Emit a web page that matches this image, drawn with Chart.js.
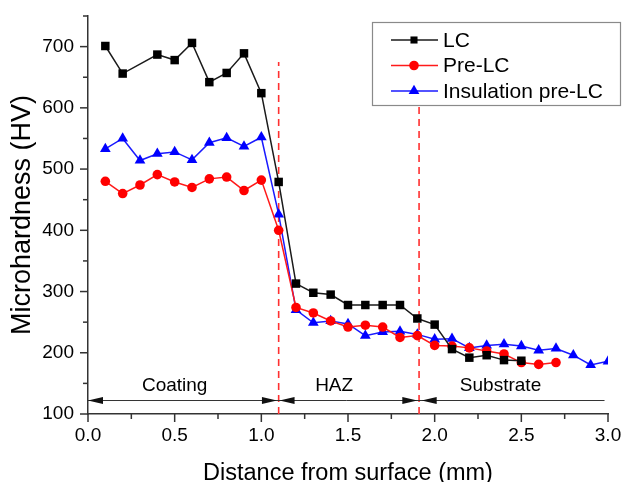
<!DOCTYPE html>
<html>
<head>
<meta charset="utf-8">
<script src="https://cdn.jsdelivr.net/npm/chart.js@4.4.1/dist/chart.umd.min.js"></script>
<style>
  html, body { margin: 0; padding: 0; background: #fff; }
  canvas { display: block; }
</style>
</head>
<body>
<canvas id="hv" width="624" height="482"></canvas>
<script>
// Microhardness profiles versus distance from the coating surface
const distLC = [0.1, 0.2, 0.4, 0.5, 0.6, 0.7, 0.8, 0.9, 1.0, 1.1, 1.2, 1.3, 1.4, 1.5, 1.6, 1.7, 1.8, 1.9, 2.0, 2.1, 2.2, 2.3, 2.4, 2.5];
const hvLC   = [701, 656, 687, 678, 706, 642, 657, 689, 624, 479, 313, 298, 295, 278, 278, 278, 278, 256, 246, 206, 192, 196, 188, 187];

const distPre = [0.1, 0.2, 0.3, 0.4, 0.5, 0.6, 0.7, 0.8, 0.9, 1.0, 1.1, 1.2, 1.3, 1.4, 1.5, 1.6, 1.7, 1.8, 1.9, 2.0, 2.1, 2.2, 2.3, 2.4, 2.5, 2.6, 2.7];
const hvPre   = [480, 460, 474, 491, 479, 470, 484, 487, 465, 482, 400, 274, 265, 252, 242, 245, 242, 225, 228, 212, 211, 208, 203, 198, 184, 181, 184];

const distIns = [0.1, 0.2, 0.3, 0.4, 0.5, 0.6, 0.7, 0.8, 0.9, 1.0, 1.1, 1.2, 1.3, 1.4, 1.5, 1.6, 1.7, 1.8, 1.9, 2.0, 2.1, 2.2, 2.3, 2.4, 2.5, 2.6, 2.7, 2.8, 2.9, 3.0];
const hvIns   = [533, 550, 514, 525, 528, 515, 543, 551, 537, 552, 426, 270, 249, 252, 247, 228, 234, 235, 230, 222, 223, 208, 212, 214, 211, 204, 207, 196, 180, 186];

const seriesNames = ['LC', 'Pre-LC', 'Insulation pre-LC'];

const xTickValues = [0, 0.5, 1.0, 1.5, 2.0, 2.5, 3.0];
const yTickValues = [100, 200, 300, 400, 500, 600, 700];

// Zone boundaries and the zone arrows along the bottom
const boundaryX = [1.1, 1.91];
const zoneNames = ['Coating', 'HAZ', 'Substrate'];
const zoneFrom  = [0, 1.105, 1.925];
const zoneTo    = [1.09, 1.90, 2.98];
const zoneLabelX = [0.5, 1.42, 2.38];
const zoneArrowY = 122;
const zoneLabelY = 146;
const boundaryTop = 675;

const FONT = '"Liberation Sans", Arial, Helvetica, sans-serif';

function pts(xs, ys) { return xs.map((x, i) => ({ x: x, y: ys[i] })); }

function drawMarker(ctx, style, x, y, r, color) {
  ctx.save();
  ctx.fillStyle = color;
  ctx.beginPath();
  if (style === 'rect') {
    const s = r * Math.SQRT1_2;
    ctx.rect(x - s, y - s, 2 * s, 2 * s);
  } else if (style === 'triangle') {
    ctx.moveTo(x, y - r);
    ctx.lineTo(x + r * Math.sin(Math.PI / 3), y + r / 2);
    ctx.lineTo(x - r * Math.sin(Math.PI / 3), y + r / 2);
    ctx.closePath();
  } else {
    ctx.arc(x, y, r, 0, Math.PI * 2);
  }
  ctx.fill();
  ctx.restore();
}

function arrowHead(ctx, tipX, y, dir) {
  // dir = -1 points left, +1 points right
  const len = 15, half = 3.5;
  ctx.beginPath();
  ctx.moveTo(tipX, y);
  ctx.lineTo(tipX - dir * len, y - half);
  ctx.lineTo(tipX - dir * len, y + half);
  ctx.closePath();
  ctx.fill();
}

const zonePlugin = {
  id: 'zones',
  beforeDatasetsDraw(chart) {
    const { ctx, scales: { x, y } } = chart;
    ctx.save();
    // dashed zone boundaries
    ctx.strokeStyle = '#ff3030';
    ctx.lineWidth = 1.6;
    ctx.setLineDash([7, 5]);
    boundaryX.forEach(b => {
      const px = x.getPixelForValue(b);
      ctx.beginPath();
      ctx.moveTo(px, y.getPixelForValue(y.min));
      ctx.lineTo(px, y.getPixelForValue(boundaryTop));
      ctx.stroke();
    });
    ctx.setLineDash([]);
    // zone arrows
    const ay = y.getPixelForValue(zoneArrowY);
    ctx.strokeStyle = '#333';
    ctx.fillStyle = '#111';
    ctx.lineWidth = 1;
    ctx.beginPath();
    ctx.moveTo(x.getPixelForValue(zoneFrom[0]), ay);
    ctx.lineTo(x.getPixelForValue(zoneTo[zoneTo.length - 1]), ay);
    ctx.stroke();
    zoneFrom.forEach((f, i) => {
      arrowHead(ctx, x.getPixelForValue(f), ay, -1);
      if (i < zoneFrom.length - 1) arrowHead(ctx, x.getPixelForValue(zoneTo[i]), ay, 1);
    });
    // zone names
    ctx.font = '19px ' + FONT;
    ctx.fillStyle = '#000';
    ctx.textAlign = 'center';
    ctx.textBaseline = 'middle';
    zoneNames.forEach((n, i) => {
      ctx.fillText(n, x.getPixelForValue(zoneLabelX[i]), y.getPixelForValue(zoneLabelY));
    });
    ctx.restore();
  },
  afterDraw(chart) {
    const { ctx, scales: { x, y } } = chart;
    ctx.save();
    // outward tick marks: major and minor
    ctx.strokeStyle = '#333';
    ctx.lineWidth = 1.5;
    const bx = y.getPixelForValue(y.min);
    for (let i = 0; i < xTickValues.length; i++) {
      const px = x.getPixelForValue(xTickValues[i]);
      ctx.beginPath(); ctx.moveTo(px, bx); ctx.lineTo(px, bx + 8); ctx.stroke();
      if (i < xTickValues.length - 1) {
        const mx = x.getPixelForValue((xTickValues[i] + xTickValues[i + 1]) / 2);
        ctx.beginPath(); ctx.moveTo(mx, bx); ctx.lineTo(mx, bx + 5); ctx.stroke();
      }
    }
    const lx = x.getPixelForValue(x.min);
    const yMinor = yTickValues.map(v => v + 50);
    yTickValues.forEach(v => {
      const py = y.getPixelForValue(v);
      ctx.beginPath(); ctx.moveTo(lx, py); ctx.lineTo(lx - 8, py); ctx.stroke();
    });
    yMinor.forEach(v => {
      const py = y.getPixelForValue(v);
      ctx.beginPath(); ctx.moveTo(lx, py); ctx.lineTo(lx - 5, py); ctx.stroke();
    });

    // legend box
    const L = 372, T = 22, R = 620, B = 105;
    ctx.fillStyle = '#fff';
    ctx.fillRect(L, T, R - L, B - T);
    ctx.strokeStyle = '#8a8a8a';
    ctx.lineWidth = 1.2;
    ctx.strokeRect(L + 0.5, T + 0.5, R - L, B - T);
    const rows = [40, 65.5, 91];
    ctx.font = '21px ' + FONT;
    ctx.textAlign = 'left';
    ctx.textBaseline = 'middle';
    chart.data.datasets.forEach((ds, i) => {
      const ry = rows[i];
      ctx.strokeStyle = ds.borderColor;
      ctx.lineWidth = 1.5;
      ctx.beginPath(); ctx.moveTo(391, ry); ctx.lineTo(438, ry); ctx.stroke();
      drawMarker(ctx, ds.pointStyle, 414, ry, ds.pointStyle === 'rect' ? 5 : ds.pointRadius, ds.pointBackgroundColor);
      ctx.fillStyle = '#000';
      ctx.fillText(ds.label, 443, ry + 1);
    });
    ctx.restore();
  }
};

function noEdgePadding(s) {
  s.paddingTop = 0; s.paddingBottom = 0; s.paddingLeft = 0; s.paddingRight = 0;
}

new Chart(document.getElementById('hv'), {
  type: 'scatter',
  data: {
    datasets: [
      {
        label: seriesNames[0], data: pts(distLC, hvLC), showLine: true,
        borderColor: '#1a1a1a', borderWidth: 1.5,
        pointStyle: 'rect', pointRadius: 6, pointBorderWidth: 0,
        pointBackgroundColor: '#000', pointBorderColor: '#000'
      },
      {
        label: seriesNames[1], data: pts(distPre, hvPre), showLine: true,
        borderColor: '#ff1a1a', borderWidth: 1.5,
        pointStyle: 'circle', pointRadius: 4.8, pointBorderWidth: 0,
        pointBackgroundColor: '#ff0000', pointBorderColor: '#ff0000'
      },
      {
        label: seriesNames[2], data: pts(distIns, hvIns), showLine: true,
        borderColor: '#1a1aff', borderWidth: 1.5,
        pointStyle: 'triangle', pointRadius: 6.2, pointBorderWidth: 0,
        pointBackgroundColor: '#0000ff', pointBorderColor: '#0000ff'
      }
    ]
  },
  options: {
    responsive: false,
    animation: false,
    devicePixelRatio: 1,
    layout: { padding: { left: 0, right: 16, top: 16, bottom: 0 } },
    plugins: { legend: { display: false }, tooltip: { enabled: false } },
    scales: {
      x: {
        type: 'linear', min: 0, max: 3.0,
        grid: { display: false, drawTicks: false },
        border: { display: true, color: '#333', width: 1.5 },
        afterBuildTicks: s => { s.ticks = xTickValues.map(v => ({ value: v })); },
        afterFit: s => { s.height = 68; noEdgePadding(s); },
        ticks: {
          padding: 10, maxRotation: 0, autoSkip: false,
          color: '#000', font: { family: FONT, size: 19 },
          callback: v => Number(v).toFixed(1)
        },
        title: {
          display: true, text: 'Distance from surface (mm)', color: '#000',
          font: { family: FONT, size: 23.5 }, padding: { top: 0, bottom: -6 }
        }
      },
      y: {
        type: 'linear', min: 100, max: 750,
        grid: { display: false, drawTicks: false },
        border: { display: true, color: '#333', width: 1.5 },
        afterBuildTicks: s => { s.ticks = yTickValues.map(v => ({ value: v })); },
        afterFit: s => { s.width = 88; noEdgePadding(s); },
        ticks: {
          padding: 14, autoSkip: false,
          color: '#000', font: { family: FONT, size: 19 },
          callback: v => String(v)
        },
        title: {
          display: true, text: 'Microhardness (HV)', color: '#000',
          font: { family: FONT, size: 27 }, padding: { top: 6, bottom: 0 }
        }
      }
    }
  },
  plugins: [zonePlugin]
});
</script>
</body>
</html>
